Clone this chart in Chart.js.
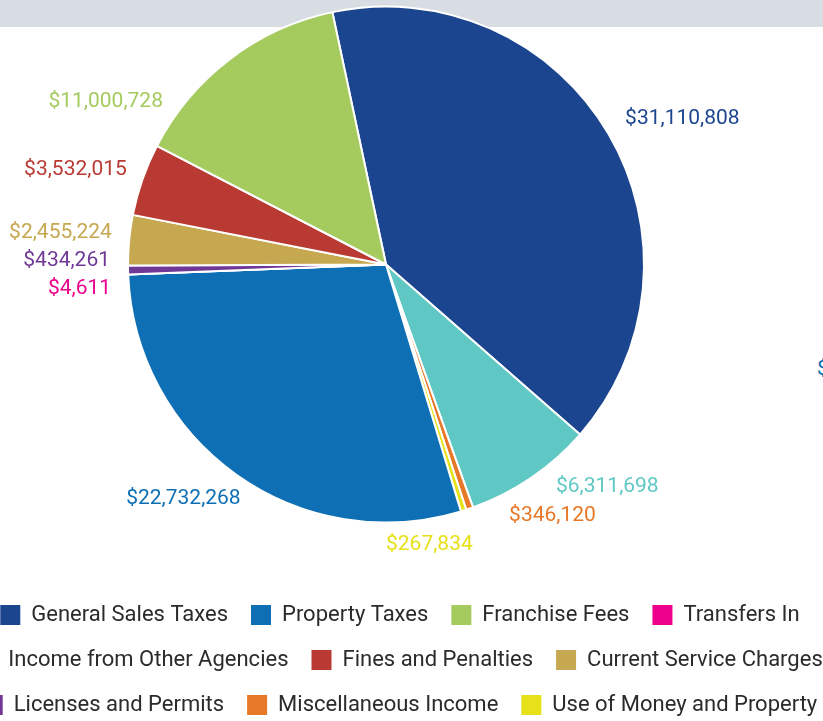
<!DOCTYPE html>
<html>
<head>
<meta charset="utf-8">
<script src="https://cdn.jsdelivr.net/npm/chart.js@4.4.1/dist/chart.umd.min.js"></script>
<style>
  html, body { margin: 0; padding: 0; width: 823px; height: 721px; overflow: hidden; background: #fff; }
  #band { position: absolute; left: 0; top: 0; width: 823px; height: 27px; background: #d8dce3; }
  #wrap { position: absolute; left: -100px; top: -52px; width: 1000px; height: 778px; }
  #edge { position: absolute; left: 817px; top: 356px; font: 21px Roboto; color: #0e6fb4; }
</style>
</head>
<body>
<div id="band"></div>
<div id="edge">$</div>
<div id="wrap"><canvas id="revenueChart"></canvas></div>
<script>
// slices in drawing order (clockwise from the top)
const categories = [
  "General Sales Taxes", "Income from Other Agencies", "Miscellaneous Income",
  "Use of Money and Property", "Property Taxes", "Transfers In",
  "Licenses and Permits", "Current Service Charges", "Fines and Penalties", "Franchise Fees"
];
const revenue = [31110808, 6311698, 346120, 267834, 22732268, 4611, 434261, 2455224, 3532015, 11000728];
const sliceColors = [
  "#1b458f", "#5fc8c4", "#e67828", "#e6e119", "#0e6fb4",
  "#ec008c", "#6f3896", "#c6a850", "#b93a32", "#a5cb5f"
];
// order of the legend entries
const legendOrder = [
  "General Sales Taxes", "Property Taxes", "Franchise Fees", "Transfers In",
  "Income from Other Agencies", "Fines and Penalties", "Current Service Charges",
  "Licenses and Permits", "Miscellaneous Income", "Use of Money and Property"
];

Chart.defaults.font.family = "Roboto";

const money = v => "$" + v.toLocaleString("en-US");

// spread labels of one side so they don't overlap
function spread(items, minY, maxY, step) {
  items.sort((a, b) => a.y - b.y);
  let groups = items.map(it => ({ items: [it], want: it.y }));
  let merged = true;
  while (merged) {
    merged = false;
    for (let i = 1; i < groups.length; i++) {
      const a = groups[i - 1], b = groups[i];
      const aTop = a.want - (a.items.length - 1) * step / 2;
      const bTop = b.want - (b.items.length - 1) * step / 2;
      if (aTop + a.items.length * step > bTop) {
        const all = a.items.concat(b.items);
        groups.splice(i - 1, 2, { items: all, want: all.reduce((s, it) => s + it.y, 0) / all.length });
        merged = true;
        break;
      }
    }
  }
  groups.forEach(g => {
    let top = g.want - (g.items.length - 1) * step / 2;
    top = Math.max(minY, Math.min(top, maxY - (g.items.length - 1) * step));
    g.items.forEach((it, k) => { it.y = top + k * step; });
  });
}

const valueLabels = {
  id: "valueLabels",
  afterDatasetsDraw(chart) {
    const ctx = chart.ctx;
    const arcs = chart.getDatasetMeta(0).data;
    const cx = arcs[0].x, cy = arcs[0].y, r = arcs[0].outerRadius;
    const left = [], right = [];
    arcs.forEach((arc, i) => {
      const mid = (arc.startAngle + arc.endAngle) / 2;
      const item = { i, y: cy + Math.sin(mid) * (r + 30) };
      (Math.cos(mid) >= 0 ? right : left).push(item);
    });
    const minY = cy - r * 0.63;
    const maxY = chart.legend.top - 36;
    spread(left, minY, maxY, 28);
    spread(right, minY, maxY, 29);
    ctx.save();
    ctx.font = "21px Roboto";
    ctx.textBaseline = "middle";
    [[left, -1, r + 18], [right, 1, r + 22]].forEach(([list, dir, rl]) => {
      list.forEach(it => {
        const dy = it.y - cy;
        const dx = Math.sqrt(Math.max(0, rl * rl - dy * dy));
        ctx.textAlign = dir > 0 ? "left" : "right";
        ctx.fillStyle = sliceColors[it.i];
        ctx.fillText(money(revenue[it.i]), cx + dir * dx, it.y);
      });
    });
    ctx.restore();
  }
};

// the legend sits a bit right of the pie centre
const legendShift = {
  id: "legendShift",
  afterLayout(chart) {
    chart.legend.left += 14;
    chart.legend.right += 14;
  }
};

const ctx = document.getElementById("revenueChart").getContext("2d");
new Chart(ctx, {
  type: "pie",
  data: {
    labels: categories,
    datasets: [{
      data: revenue,
      backgroundColor: sliceColors,
      borderColor: "#ffffff",
      borderWidth: 2,
      radius: 258
    }]
  },
  options: {
    responsive: true,
    maintainAspectRatio: false,
    animation: false,
    rotation: -12,
    layout: { padding: { right: 28 } },
    plugins: {
      tooltip: { enabled: false },
      legend: {
        position: "bottom",
        labels: {
          color: "#2b2b2b",
          font: { size: 22 },
          boxWidth: 20,
          boxHeight: 20,
          padding: 23,
          generateLabels(chart) {
            return Chart.overrides.pie.plugins.legend.labels.generateLabels(chart)
              .map(l => ({ ...l, lineWidth: 0 }));
          },
          sort: (a, b) => legendOrder.indexOf(a.text) - legendOrder.indexOf(b.text)
        }
      }
    }
  },
  plugins: [valueLabels, legendShift]
});
</script>
</body>
</html>
